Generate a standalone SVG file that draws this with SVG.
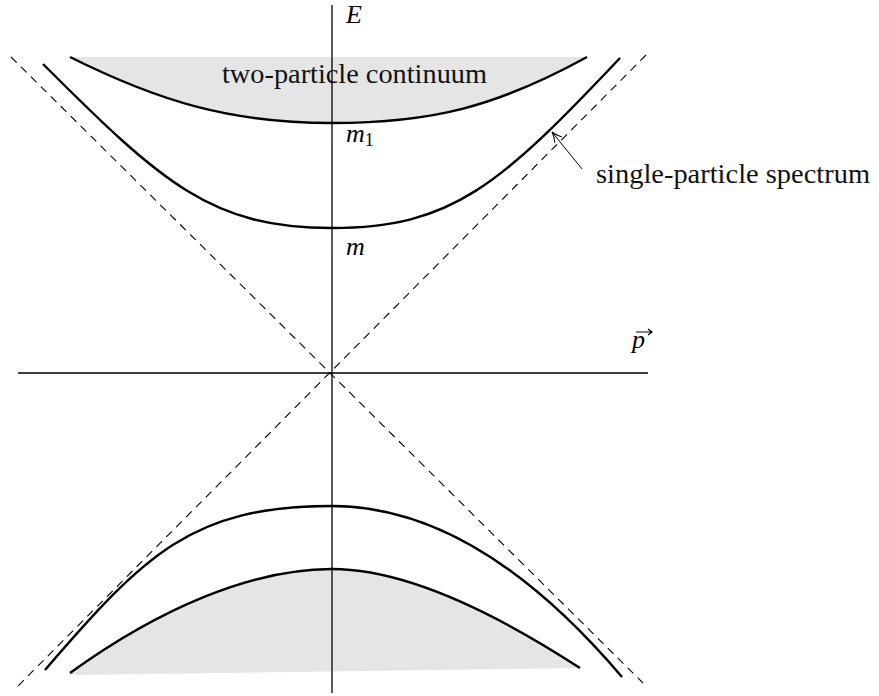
<svg xmlns="http://www.w3.org/2000/svg" width="879" height="696" viewBox="0 0 879 696">
  <style>
    .fill { fill: #e5e5e5; stroke: none; }
    .curve { fill: none; stroke: #000; stroke-width: 2.4; stroke-linecap: butt; }
    .axis { stroke: #000; stroke-width: 1.3; fill: none; }
    .dash { stroke: #000; stroke-width: 1.1; stroke-dasharray: 8 6; fill: none; }
    .txt { font-family: "Liberation Serif", "DejaVu Serif", serif; font-size: 27px; fill: #111; }
    .math { font-family: "Liberation Serif", "DejaVu Serif", serif; font-style: italic; font-size: 26px; fill: #000; }
    .sub { font-family: "Liberation Serif", "DejaVu Serif", serif; font-size: 18px; font-style: normal; fill: #000; }
  </style>
  <defs>
    <marker id="arrowhead" viewBox="0 0 12 12" refX="11" refY="6" markerWidth="12" markerHeight="12" markerUnits="userSpaceOnUse" orient="auto">
      <path d="M1,1.5 Q6,5 11,6 Q6,7 1,10.5" fill="none" stroke="#000" stroke-width="1"/>
    </marker>
  </defs>
  <rect width="879" height="696" fill="#fff"/>

  <g id="continuum-regions">
    <path class="fill" d="M70,57 C160,102 232,123 332,123 C432,123 497,106.5 587,57 Z"/>
    <path class="fill" d="M70,673 C160,608 252,569 332,569 C402,569 490,609.5 580,668 L70,675 Z"/>
  </g>

  <g id="label-continuum">
    <text class="txt" x="222" y="83" textLength="265" lengthAdjust="spacingAndGlyphs">two-particle continuum</text>
  </g>

  <g id="axes">
    <line class="axis" x1="332" y1="5" x2="332" y2="693"/>
    <line class="axis" x1="18" y1="373" x2="648" y2="373"/>
  </g>

  <g id="asymptotes">
    <line class="dash" x1="11" y1="57" x2="643" y2="683"/>
    <line class="dash" x1="646" y1="55" x2="17" y2="687"/>
  </g>

  <g id="curves">
    <path id="single-upper" class="curve" d="M43,64 C163,184 212,228 332,228 C452,228 500,185 620,58"/>
    <path id="continuum-upper" class="curve" d="M70,57 C160,102 232,123 332,123 C432,123 497,106.5 587,57"/>
    <path id="single-lower" class="curve" d="M45,670 C145,554 192,506 332,506 C428.7,506 525.3,563 622,677"/>
    <path id="continuum-lower" class="curve" d="M70,673 C160,608 252,569 332,569 C402,569 490,609.5 580,668"/>
  </g>

  <g id="connectors">
    <line x1="582" y1="169" x2="552" y2="132" stroke="#000" stroke-width="1" marker-end="url(#arrowhead)"/>
  </g>

  <g id="label-single">
    <text class="txt" x="596" y="183" textLength="274" lengthAdjust="spacingAndGlyphs">single-particle spectrum</text>
  </g>

  <g id="label-E">
    <text class="math" x="346" y="23" font-size="21">E</text>
  </g>
  <g id="label-m1">
    <text class="math" x="346" y="142">m<tspan class="sub" dy="4">1</tspan></text>
  </g>
  <g id="label-m">
    <text class="math" x="346" y="255">m</text>
  </g>
  <g id="label-p">
    <text class="math" x="632" y="348">p</text>
    <path d="M636,332 L652,332 M648,329 L652,332 L648,335" fill="none" stroke="#000" stroke-width="1.2"/>
  </g>
</svg>
